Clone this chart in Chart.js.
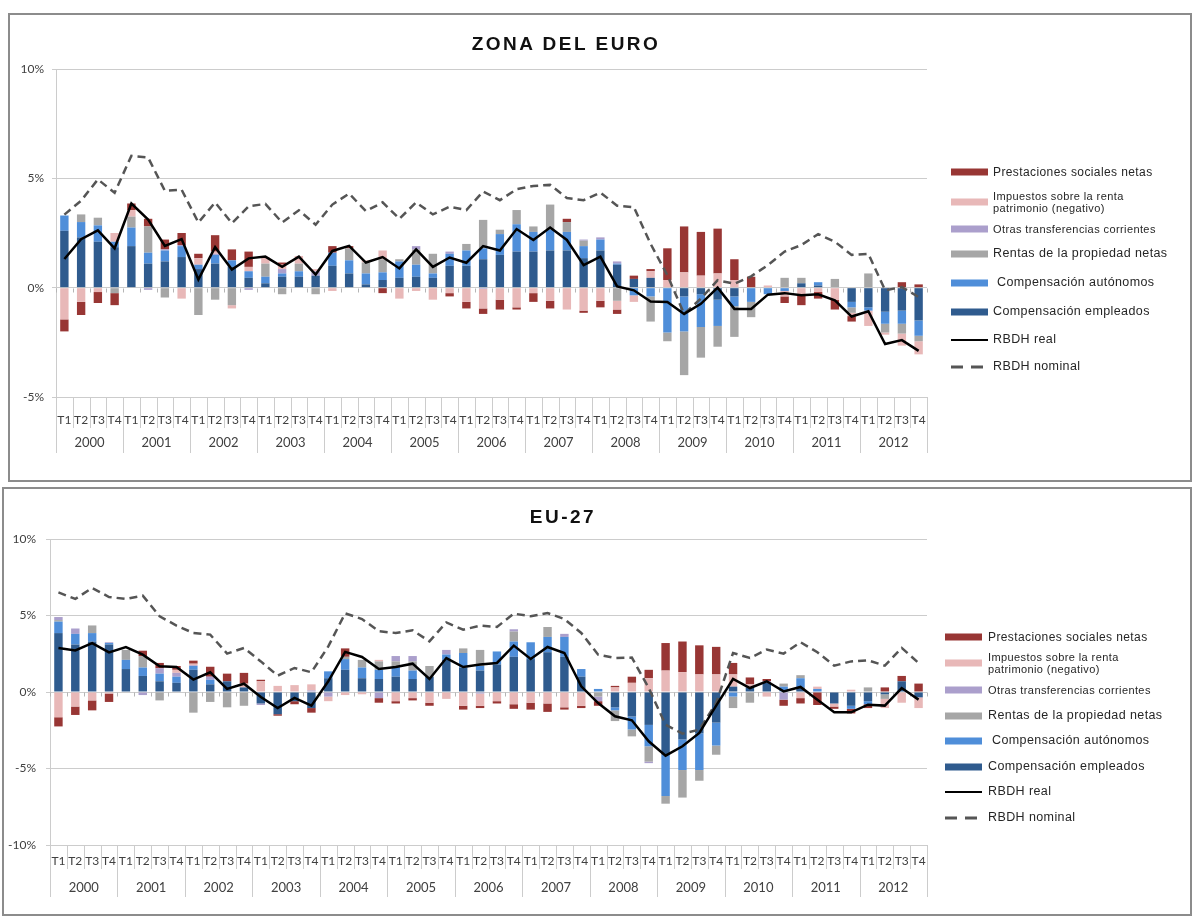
<!DOCTYPE html>
<html>
<head>
<meta charset="utf-8">
<script src="https://cdn.jsdelivr.net/npm/chart.js@4.4.1/dist/chart.umd.min.js"></script>
<style>
  html,body{margin:0;padding:0;background:#fff;}
  body{width:1193px;height:918px;position:relative;overflow:hidden;font-family:"Liberation Sans",Arial,sans-serif;}
  .panel{position:absolute;box-sizing:border-box;border:2px solid #8c8c8c;background:#fff;}
  .cv{position:absolute;left:0;}
  .title{position:absolute;font-family:"Liberation Sans",Arial,sans-serif;font-weight:bold;font-size:19px;letter-spacing:2.5px;color:#111;transform:translate(-50%,-50%);white-space:nowrap;}
  .lg{position:absolute;left:0;top:0;}
  .item{position:absolute;white-space:nowrap;color:#262626;transform:translateY(-50%);}
  .sw{position:absolute;height:7px;width:37px;transform:translateY(-50%);}
  .ln{position:absolute;width:37px;height:0;transform:translateY(-50%);}
</style>
</head>
<body>
<div class="panel" style="left:8px;top:13px;width:1184px;height:469px;"></div>
<div class="panel" style="left:2px;top:487px;width:1190px;height:429px;"></div>
<div class="cv" style="top:0;width:1193px;height:485px;"><canvas id="c1" width="1193" height="485"></canvas></div>
<div class="cv" style="top:485px;width:1193px;height:433px;"><canvas id="c2" width="1193" height="433"></canvas></div>
<div class="title" style="left:566px;top:44px;">ZONA DEL EURO</div>
<div class="title" style="left:563px;top:517px;">EU-27</div>
<div id="legends"></div>
<script>
// ---------- DATA ----------
const years = ['2000','2001','2002','2003','2004','2005','2006','2007','2008','2009','2010','2011','2012'];
const quarterNames = ['T1','T2','T3','T4'];
const quarters = years.flatMap(() => quarterNames);

const seriesNames = ['Compensación empleados','Compensación autónomos','Rentas de la propiedad netas','Otras transferencias corrientes','Impuestos sobre la renta patrimonio (negativo)','Prestaciones sociales netas'];
const lineNames = ['RBDH real','RBDH nominal'];

// Zona del euro
const euroEmpleados = [2.6,2.3,2.1,1.85, 1.9,1.1,1.2,1.4, 0.85,1.1,0.95,0.45, 0.2,0.5,0.5,0.55, 1.0,0.65,0.15,0.35, 0.45,0.5,0.45,1.0, 1.0,1.3,1.5,1.65, 1.65,1.7,1.7,1.35, 1.7,1.05,0.4,0.45, 0,-0.4,-0.3,-0.55, -0.4,0,0,0, 0.2,0.1,0,-0.65, -0.9,-1.1,-1.05,-1.5];
const euroAutonomos = [0.7,0.7,0.75,0.25, 0.85,0.5,0.5,0.5, 0.2,0.4,0.3,0.3, 0.3,0.15,0.25,0, 0.6,0.6,0.5,0.35, 0.75,0.55,0.2,0.55, 0.7,0.5,0.95,1.25, 0.9,0.95,0.85,0.55, 0.5,0.05,-0.35,-0.4, -2.05,-1.6,-1.5,-1.2, -0.45,-0.65,-0.3,-0.15, 0,0.15,0,-0.25, -0.15,-0.55,-0.6,-0.7];
const euroRentas = [0,0.35,0.35,-0.25, 0.5,1.2,-0.45,0, -1.25,-0.55,-0.8,0, 0.6,-0.3,0.35,-0.3, 0,0.55,0.5,0.6, 0.1,0.7,0.9,0, 0.3,1.3,0.2,0.65, 0.25,1.15,0.45,0.25, 0,-0.6,0,-1.15, -0.4,-2.0,-1.4,-0.95, -1.4,-0.7,0,0.45, 0.25,0,0.4,-0.25, 0.65,-0.4,-0.45,-0.25];
const euroOtras = [0,0,0,0, 0,-0.1,0.05,0.05, 0,0.05,0,-0.1, 0,0.2,0,0.2, 0,0,0,0, 0,0.15,0,0.1, 0,-0.05,0,0, 0,0,0,0.05, 0.1,0.1,0,0, 0,0,0,0, 0,0,0,0, 0,0,0,0, 0,0,0,0];
const euroImpuestos = [-1.45,-0.65,-0.2,0.4, 0.3,0,0,-0.5, 0.3,0.1,-0.15,0.2, 0.3,0.2,0.35,0.1, -0.15,0,0.1,0.4, -0.5,-0.15,-0.55,-0.25, -0.65,-0.9,-0.55,-0.9, -0.25,-0.6,-1.0,-1.05, -0.6,-0.4,-0.3,0.3, 0.35,0.7,0.55,0.65, 0.35,0,0.1,-0.25, -0.3,-0.2,-0.55,-0.15, -0.7,-0.1,-0.55,-0.6];
const euroPrestaciones = [-0.55,-0.6,-0.5,-0.55, 0.3,0.35,0.45,0.55, 0.2,0.75,0.5,0.7, 0,0.1,0,0, 0.3,0.1,0,-0.25, 0,0,0,-0.15, -0.3,-0.25,-0.45,-0.1, -0.4,-0.35,0.15,-0.1, -0.3,-0.2,0.15,0.1, 1.45,2.1,2.0,2.05, 0.95,0.5,0,-0.3, -0.5,-0.3,-0.45,-0.25, 0,0,0.25,0.15];
const euroReal = [1.31,2.22,2.62,1.8, 3.85,3.11,1.91,2.22, 0.37,1.85,0.83,1.34, 1.42,0.95,1.42,0.6, 1.68,1.91,1.15,1.4, 0.88,1.75,0.95,1.38, 1.14,1.9,1.7,2.68, 2.18,2.75,2.18,1.03, 1.42,0.06,-0.12,-0.63, -0.66,-1.2,-0.74,0.0, -0.97,-0.97,-0.32,-0.25, -0.35,-0.3,-0.58,-1.32, -1.08,-2.58,-2.4,-2.89];
const euroNominal = [3.34,3.98,4.95,4.34, 6.03,5.95,4.43,4.48, 2.98,3.9,2.95,3.72, 3.83,2.98,3.54,2.88, 3.8,4.3,3.5,3.9, 3.15,3.9,3.35,3.7, 3.55,4.4,4.0,4.5, 4.65,4.7,4.1,4.0, 4.35,3.75,3.68,2.0, 0.57,-1.2,-0.5,0.34, 0.18,0.52,1.03,1.65, 1.95,2.45,2.1,1.5, 1.55,-0.12,0.03,-0.43];

// EU-27
const euEmpleados = [3.85,3.1,3.3,3.1, 1.5,1.05,0.7,0.6, 1.45,0.5,0.7,0.3, -0.75,-1.45,-0.6,-1.05, 0.9,1.45,0.9,0.85, 1.0,0.85,1.0,2.1, 1.6,1.4,1.8,2.3, 2.15,2.6,2.3,1.0, 0,-1.0,-1.6,-2.15, -4.1,-3.1,-2.7,-2.0, 0.35,0.3,0.6,0, 0.3,0,-0.75,-0.9, -0.6,-0.15,0.7,-0.35];
const euAutonomos = [0.75,0.7,0.55,0.1, 0.6,0.55,0.5,0.4, 0.25,0.3,0,0, 0,0,0,0, 0.45,0.7,0.7,0.6, 0.65,0.55,0,0.35, 0.95,0.3,0.85,1.0, 1.1,1.0,1.3,0.5, 0.2,-0.2,-0.85,-1.4, -2.7,-2.0,-2.4,-1.5, -0.3,0,0,0.35, 0.6,0.2,0,-0.2, -0.2,0,0,0];
const euRentas = [0.1,0,0.5,0, 0.65,0.75,-0.55,0, -1.35,-0.65,-1.0,-0.9, 0,0,0,0, 0,0.15,0.5,0.55, 0.35,0.6,0.7,0, 0.3,1.05,0,0.65, 0,0.65,0,0, -0.3,-0.7,-0.45,-1.0, -0.5,-1.8,-0.7,-0.6, -0.75,-0.7,0,0.2, 0.2,0,0,0, 0.3,-0.3,0,0];
const euOtras = [0.2,0.35,0,0.05, 0,-0.2,0.35,0.25, 0.05,0.2,0,0, -0.1,0,0,0.1, -0.3,0,0,-0.4, 0.35,0.35,0,0.3, 0,-0.1,0,0.15, 0,0,0.2,0, -0.3,0,0,-0.1, 0,0,0,0, 0,0,0.1,-0.5, 0,0,0,0, 0,0,0,0];
const euImpuestos = [-1.65,-0.95,-0.55,-0.1, 0,0,0,0.2, 0.1,0,0,0.25, 0.7,0.4,0.45,0.4, -0.3,-0.2,-0.15,0.1, -0.6,-0.4,-0.7,-0.45, -0.9,-0.8,-0.6,-0.8, -0.7,-0.75,-1.0,-0.9, 0,0.3,0.6,0.9, 1.4,1.3,1.15,1.15, 0.8,0.2,-0.3,0, -0.4,0.15,-0.2,0.15, 0,-0.6,-0.7,-0.7];
const euPrestaciones = [-0.6,-0.55,-0.65,-0.55, 0,0.35,0.35,0.25, 0.2,0.65,0.5,0.7, 0.1,-0.1,-0.2,-0.3, 0,0.55,0,-0.3, -0.15,-0.15,-0.2,0, -0.25,-0.15,-0.15,-0.3, -0.45,-0.55,-0.15,-0.15, -0.3,0.1,0.4,0.55, 1.8,2.0,1.9,1.8, 0.75,0.45,0.15,-0.4, -0.35,-0.85,-0.15,-0.3, -0.25,0.3,0.35,0.55];
const euReal = [2.88,2.72,3.2,2.59, 2.94,2.44,1.68,1.63, 0.81,1.29,0.2,0.54, -0.33,-1.05,-0.39,-0.89, 0.7,2.62,2.29,1.5, 1.63,1.85,0.85,2.22, 1.63,1.8,1.9,3.03, 2.16,2.94,2.55,0.37, -0.72,-1.59,-1.85,-3.22, -4.16,-3.55,-2.68,-0.89, 0.85,0.26,0.7,0.04, 0.33,-0.5,-1.33,-1.33, -0.83,-0.89,0.26,-0.5];
const euNominal = [6.51,6.08,6.8,6.21, 6.08,6.3,4.95,4.34, 3.86,3.75,2.51,2.88, 2.0,1.07,1.57,1.29, 2.98,5.14,4.77,3.97, 3.86,4.03,3.31,4.55, 4.07,4.34,4.25,5.12, 4.95,5.16,4.77,3.86, 2.44,2.22,2.25,0.26, -2.14,-2.72,-2.46,-0.72, 2.55,2.22,2.77,2.51, 3.25,2.6,1.72,2.0, 2.07,1.72,2.88,1.9];

// ---------- STYLE ----------
const barColors = ['#2f5b8e','#4f8ed9','#a6a6a6','#ab9fcc','#e8b8b8','#983634'];
const realColor = '#000000';
const nominalColor = '#555555';
const gridColor = '#cccccc';
const tickFont = {family:'Lato', size:12};

const decorPlugin = {
  id: 'decor',
  beforeDatasetsDraw(chart, args, o) {
    const {ctx} = chart;
    const xs = chart.scales.x, ys = chart.scales.y;
    const y0 = Math.round(ys.getPixelForValue(0)) + 0.5;
    ctx.save();
    ctx.strokeStyle = '#b5b5b5'; ctx.lineWidth = 1;
    ctx.beginPath();
    for (let i = 0; i <= quarters.length; i++) {
      const px = Math.round(xs.getPixelForValue(i - 0.5)) + 0.5;
      ctx.moveTo(px, y0); ctx.lineTo(px, y0 + 4);
    }
    ctx.stroke();
    ctx.restore();
  },
  afterDraw(chart, args, o) {
    const {ctx, chartArea} = chart;
    const xs = chart.scales.x;
    const b = chartArea.bottom;
    ctx.save();
    ctx.strokeStyle = gridColor; ctx.lineWidth = 1;
    ctx.beginPath();
    for (let i = 0; i <= quarters.length; i++) {
      const px = Math.round(xs.getPixelForValue(i - 0.5)) + 0.5;
      const len = (i % 4 === 0) ? o.yearSep : o.qSep;
      ctx.moveTo(px, b); ctx.lineTo(px, b + len);
    }
    ctx.stroke();
    ctx.fillStyle = '#404040';
    ctx.font = '13px Lato';
    ctx.textAlign = 'center'; ctx.textBaseline = 'middle';
    years.forEach((yr, k) => {
      ctx.fillText(yr, xs.getPixelForValue(4 * k + 1.5), b + o.yearY);
    });
    ctx.restore();
  }
};

function makeChart(id, vals, real, nominal, cfg) {
  const datasets = vals.map((v, k) => ({
    type: 'bar', label: seriesNames[k], data: v, backgroundColor: barColors[k],
    stack: 'bars', order: 2, barPercentage: 0.5, categoryPercentage: 1.0, borderWidth: 0
  }));
  datasets.push({type:'line', label: lineNames[0], data: real, borderColor: realColor, borderWidth: 2.5,
    pointRadius: 0, tension: 0, stack: 'real', order: 0, fill: false});
  datasets.push({type:'line', label: lineNames[1], data: nominal, borderColor: nominalColor, borderWidth: 2.5,
    borderDash: [8, 5], pointRadius: 0, tension: 0, stack: 'nominal', order: 1, fill: false});
  return new Chart(document.getElementById(id), {
    data: {labels: quarters, datasets},
    options: {
      responsive: false, animation: false, devicePixelRatio: 1,
      layout: {padding: cfg.padding},
      plugins: {legend: {display: false}, tooltip: {enabled: false}, title: {display: false},
        decor: {qSep: cfg.qSep, yearSep: cfg.yearSep, yearY: cfg.yearY}},
      scales: {
        x: {stacked: true, offset: true,
          grid: {display: false, drawTicks: false}, border: {display: false},
          ticks: {autoSkip: false, maxRotation: 0, minRotation: 0, padding: cfg.xPad, font: tickFont, color: '#404040'},
          afterFit: s => { s.height = 56; }},
        y: {stacked: true, min: cfg.min, max: 10,
          grid: {color: gridColor, lineWidth: 1, tickLength: 4, drawTicks: true},
          border: {display: true, color: gridColor},
          ticks: {stepSize: 5, padding: cfg.yPad, font: tickFont, color: '#404040', callback: v => v + '%'},
          afterFit: s => { s.width = cfg.yWidth; }}
      }
    },
    plugins: [decorPlugin]
  });
}

makeChart('c1', [euroEmpleados, euroAutonomos, euroRentas, euroOtras, euroImpuestos, euroPrestaciones], euroReal, euroNominal,
  {padding: {top: 69, right: 266, bottom: 32, left: 0}, min: -5, yWidth: 56, yPad: 8, xPad: 16, qSep: 31, yearSep: 56, yearY: 46});
makeChart('c2', [euEmpleados, euAutonomos, euRentas, euOtras, euImpuestos, euPrestaciones], euReal, euNominal,
  {padding: {top: 54, right: 266, bottom: 17, left: 0}, min: -10, yWidth: 50, yPad: 10, xPad: 9, qSep: 24, yearSep: 52, yearY: 43});

// ---------- LEGENDS (HTML, real text) ----------
function legend(x0, tx, rows) {
  const host = document.getElementById('legends');
  const entries = [
    {k: 5, t: 'Prestaciones sociales netas', fs: 12},
    {k: 4, t: 'Impuestos sobre la renta<br>patrimonio (negativo)', fs: 11},
    {k: 3, t: 'Otras transferencias corrientes', fs: 11},
    {k: 2, t: 'Rentas de la propiedad netas', fs: 12.5},
    {k: 1, t: 'Compensación autónomos', fs: 12.5, dx: 4},
    {k: 0, t: 'Compensación empleados', fs: 12.5},
    {line: 'real', t: 'RBDH real', fs: 12.5},
    {line: 'nom', t: 'RBDH nominal', fs: 12.5}
  ];
  entries.forEach((e, i) => {
    const y = rows[i];
    let sw;
    if (e.line === 'real') {
      sw = `<div class="ln" style="left:${x0}px;top:${y}px;border-top:2px solid ${realColor};"></div>`;
    } else if (e.line === 'nom') {
      sw = `<div class="ln" style="left:${x0}px;top:${y}px;border-top:3px dashed ${nominalColor};width:36px;background:none;"></div>`;
      sw = `<div class="ln" style="left:${x0}px;top:${y}px;width:12px;border-top:3px solid ${nominalColor};"></div>` +
           `<div class="ln" style="left:${x0 + 20}px;top:${y}px;width:12px;border-top:3px solid ${nominalColor};"></div>`;
    } else {
      sw = `<div class="sw" style="left:${x0}px;top:${y}px;background:${barColors[e.k]};"></div>`;
    }
    const txt = `<div class="item" style="left:${tx + (e.dx || 0)}px;top:${y}px;font-size:${e.fs}px;line-height:${e.fs + 1}px;letter-spacing:0.4px;">${e.t}</div>`;
    host.insertAdjacentHTML('beforeend', sw + txt);
  });
}
legend(951, 993, [172, 202, 229, 254, 283, 312, 340, 367]);
legend(945, 988, [637, 663, 690, 716, 741, 767, 792, 818]);
</script>
</body>
</html>
